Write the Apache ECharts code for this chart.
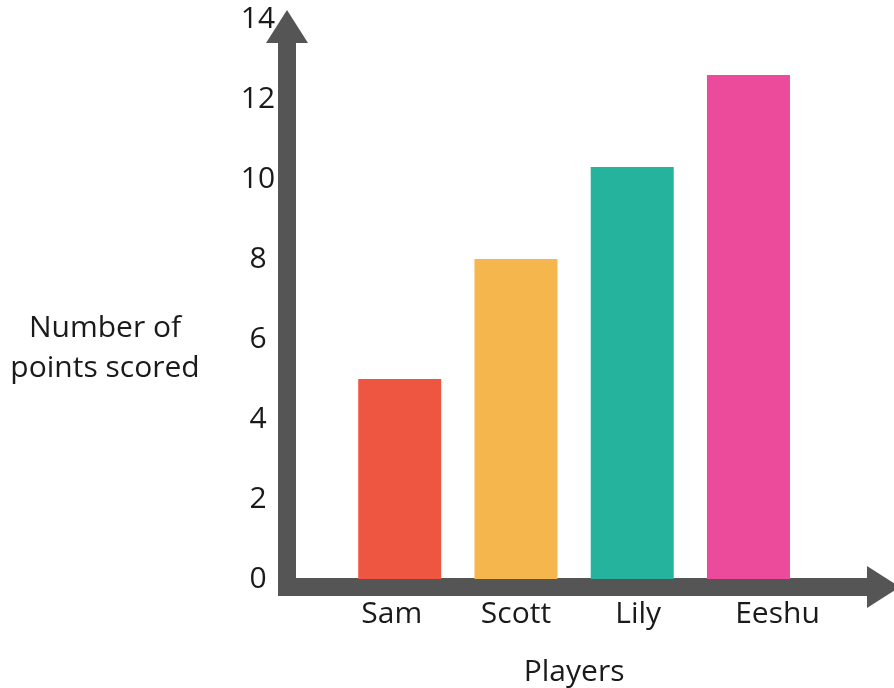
<!DOCTYPE html>
<html><head><meta charset="utf-8">
<script src="https://cdn.jsdelivr.net/npm/echarts@6/dist/echarts.min.js"></script>
<style>html,body{margin:0;padding:0;background:#fff}#c{width:894px;height:688px}</style>
</head><body><div id="c"></div>
<script>
const categories = ['Sam', 'Scott', 'Lily', 'Eeshu'];
const points = [5, 8, 10.3, 12.6];
const barColors = ['#ef5642', '#f6b64e', '#26b39e', '#ec4b9b'];
const yMin = 0, yMax = 14, yInterval = 2;
const yTitle = 'Number of\npoints scored';
const xTitle = 'Players';

const FONT = '"Open Sans", "Noto Sans", sans-serif';
const TEXT = '#1a1a1a';
const AXIS = '#555555';
const FS = 30;
// horizontal nudge of each category label, as in the original layout
const labelShift = [-8, 0, 6, 29];

const rich = {};
labelShift.forEach((s, i) => {
  rich['c' + i] = {
    fontFamily: FONT, fontSize: FS, color: TEXT,
    padding: s >= 0 ? [0, 0, 0, 2 * s] : [0, -2 * s, 0, 0]
  };
});

const arrowLine = {
  show: true, onZero: false,
  symbol: ['none', 'triangle'], symbolSize: [42, 33], symbolOffset: [0, 9],
  lineStyle: { color: AXIS, width: 18, cap: 'square' }
};

const chart = echarts.init(document.getElementById('c'), null, { renderer: 'canvas' });
chart.setOption({
  animation: false,
  backgroundColor: '#ffffff',
  title: {
    text: yTitle, left: 105, top: 308, textAlign: 'center', padding: 0,
    textStyle: { fontFamily: FONT, fontSize: FS, fontWeight: 'normal', color: TEXT, lineHeight: 40 }
  },
  grid: [
    { left: 341.6, right: 87.4, top: 19, bottom: 109, containLabel: false, outerBoundsMode: 'none' },
    { left: 287, right: 19.5, top: 35.5, bottom: 101, containLabel: false, outerBoundsMode: 'none' }
  ],
  xAxis: [
    {
      type: 'category', gridIndex: 0, data: categories,
      axisLine: { show: false }, axisTick: { show: false }, splitLine: { show: false },
      axisLabel: {
        interval: 0, margin: 20, fontFamily: FONT, fontSize: FS, color: TEXT,
        formatter: (v, i) => '{c' + i + '|' + v + '}', rich: rich
      },
      name: xTitle, nameLocation: 'middle', nameGap: 78,
      nameTextStyle: { fontFamily: FONT, fontSize: FS, color: TEXT }
    },
    {
      type: 'value', gridIndex: 1, min: 0, max: 1,
      axisLine: arrowLine, axisTick: { show: false }, axisLabel: { show: false }, splitLine: { show: false }
    }
  ],
  yAxis: [
    {
      type: 'value', gridIndex: 0, min: yMin, max: yMax, interval: yInterval, offset: 54.6,
      axisLine: { show: false }, axisTick: { show: false }, splitLine: { show: false },
      axisLabel: { align: 'center', margin: 29, padding: [21, 0, 0, 0], fontFamily: FONT, fontSize: FS, color: TEXT }
    },
    {
      type: 'value', gridIndex: 1, min: 0, max: 1,
      axisLine: arrowLine, axisTick: { show: false }, axisLabel: { show: false }, splitLine: { show: false }
    }
  ],
  series: [{
    type: 'bar', xAxisIndex: 0, yAxisIndex: 0, barWidth: 83,
    data: points.map((v, i) => ({ value: v, itemStyle: { color: barColors[i] } }))
  }]
});
</script>
</body></html>
